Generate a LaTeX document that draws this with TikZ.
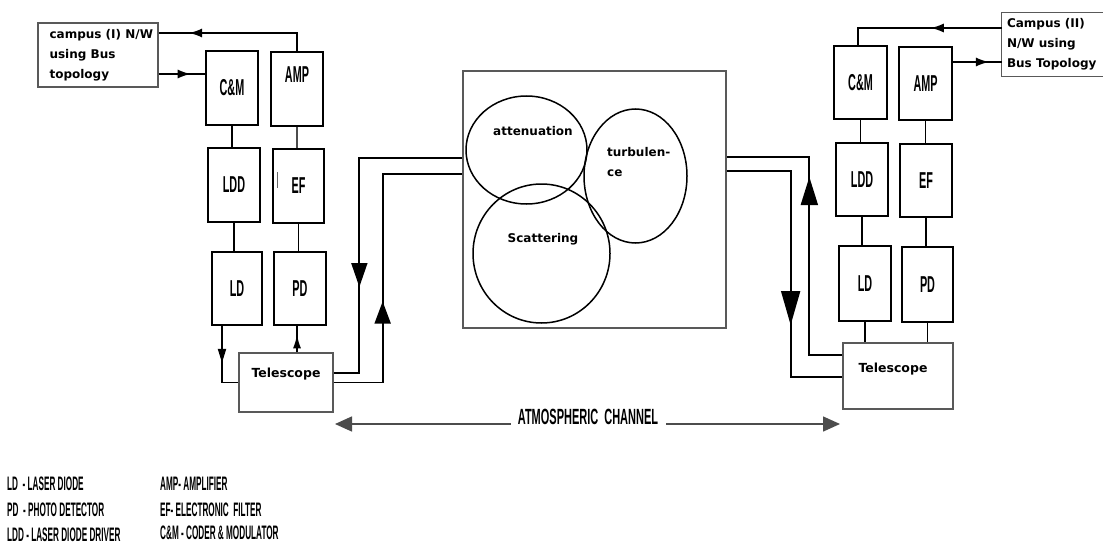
\documentclass[tikz,border=0pt]{standalone}
\usepackage{fontspec}
\setmainfont{DejaVu Sans}
\newfontfamily\condfont[FakeStretch=0.47]{Liberation Sans Bold}
\newfontfamily\condleg[FakeStretch=0.42]{Liberation Sans Bold}
\newfontfamily\condchan[FakeStretch=0.5]{Liberation Sans Bold}
\newfontfamily\verafont{DejaVu Sans}
\usetikzlibrary{arrows.meta,decorations.markings,shapes.geometric,calc}
\tikzset{
  blk/.style={draw=black, line width=1.8pt, minimum width=52pt, minimum height=73pt, inner sep=0pt, font=\condfont\fontsize{23}{23}\selectfont},
  blktext/.style={inner sep=0pt, font=\condfont\fontsize{23}{23}\selectfont},
  gbox/.style={draw=black!65, line width=1.3pt, inner sep=0pt},
  gline/.style={draw=black!65, line width=1.3pt},
  wire/.style={draw=black, line width=1.8pt},
  lightwire/.style={draw=black, line width=1.4pt},
  thinwire/.style={draw=black!70, line width=1.2pt},
  chline/.style={draw=black!70, line width=1.5pt},
  lbl/.style={font=\verafont\bfseries\fontsize{12}{20}\selectfont, inner sep=0pt, align=left},
  legend/.style={font=\condleg\fontsize{19.5}{19.5}\selectfont, inner sep=0pt, anchor=base west},
  blob/.style={ellipse, draw=black, line width=1.5pt, inner sep=0pt},
  marr/.style 2 args={postaction={decorate}, decoration={markings, mark=at position #1 with {\arrow{#2}}}},
}
\begin{document}
\begin{tikzpicture}[x=1pt,y=-1pt]
\fill[white] (0,0) rectangle (1103,543);
\useasboundingbox (0,0) rectangle (1103,543);

% ---------- left station ----------
\node[gbox, minimum width=120pt, minimum height=64pt] (campusL) at (98,55) {};
\node[lbl, anchor=west] (campusLtxt) at ([xshift=12pt]campusL.west) {campus (I) N/W\\using Bus\\topology};
\node[blk, minimum height=74pt] (CML) at (232,88) {C\&M};
\node[blk, minimum height=74pt] (AMPL) at (297,89) {};
\node[blktext] (AMPLtxt) at ([yshift=14pt]AMPL.center) {AMP};
\node[blk, minimum height=74pt] (LDDL) at (234,185) {LDD};
\node[blk, minimum width=51pt, minimum height=74pt] (EFL) at (298.5,186) {EF};
\draw[black!60, line width=1pt] (277,172) -- (277,188);
\node[blk, minimum width=50pt] (LDL) at (237,288.5) {LD};
\node[blk] (PDL) at (300,288.5) {PD};
\node[gbox, minimum width=94pt, minimum height=59pt] (TelL) at (286,382.5) {};
\node[lbl, font=\verafont\bfseries\fontsize{12.5}{15}\selectfont] (TelLtxt) at ([yshift=8pt]TelL.center) {Telescope};

% ---------- channel ----------
\node[gbox, minimum width=263pt, minimum height=257pt] (chan) at (594.5,199.5) {};
\node[blob, minimum width=121pt, minimum height=108pt] (att) at (526.5,150) {};
\node[blob, minimum width=103pt, minimum height=134pt] (turb) at (635.5,176) {};
\node[blob, minimum width=137pt, minimum height=139pt] (scat) at (541.5,253.5) {};
\node[lbl] (atttxt) at (533,131) {attenuation};
\node[lbl, anchor=west] (turbtxt) at (607,162) {turbulen-\\ce};
\node[lbl] (scattxt) at (543,239) {Scattering};

% ---------- right station ----------
\node[minimum width=101pt, minimum height=63pt, inner sep=0pt] (campusR) at (1052.5,44.5) {};
\draw[gline] (campusR.north east) -- (campusR.north west) -- (campusR.south west) -- (campusR.south east);
\node[lbl, anchor=west] (campusRtxt) at ([xshift=5pt]campusR.west) {Campus (II)\\N/W using\\Bus Topology};
\node[blk, minimum width=53pt] (CMR) at (860.5,82.5) {C\&M};
\node[blk, minimum width=53pt] (AMPR) at (925.5,83.5) {AMP};
\node[blk] (LDDR) at (862,179.5) {LDD};
\node[blk] (EFR) at (926,180.5) {EF};
\node[blk, minimum height=75pt] (LDR) at (865,283.5) {LD};
\node[blk, minimum width=51pt, minimum height=75pt] (PDR) at (927.5,284.5) {PD};
\node[gbox, minimum width=110pt, minimum height=66pt] (TelR) at (898,376) {};
\node[lbl, font=\verafont\bfseries\fontsize{12.5}{15}\selectfont] (TelRtxt) at ([xshift=-5pt,yshift=7pt]TelR.center) {Telescope};

% ---------- left connectors ----------
\draw[lightwire, marr={126pt}{Latex[length=13pt,width=9pt]}] (AMPL.north) |- ([yshift=22pt]campusL.east);
\draw[lightwire, marr={32pt}{Latex[length=13pt,width=9pt]}] ([yshift=-19pt]campusL.east) -- ([yshift=14pt]CML.west);
\draw[wire] (CML.south) -- (CML.south |- LDDL.north);
\draw[thinwire] (AMPL.south) -- (AMPL.south |- EFL.north);
\draw[wire] (LDDL.south) -- (LDDL.south |- LDL.north);
\draw[wire] (EFL.south) -- (EFL.south |- PDL.north);
\draw[wire, marr={37pt}{Triangle[length=14pt,width=8pt]}] ([xshift=-15pt]LDL.south) |- (TelL.west);
\draw[wire, marr={18pt}{Latex[length=14pt,width=8pt]}] ([xshift=-3pt]PDL.south |- TelL.north) -- ([xshift=-3pt]PDL.south);
\draw[wire, marr={232pt}{Triangle[length=24pt,width=16pt]}] ([yshift=41.5pt]chan.west) -- ++(-103,0) |- ([yshift=9.5pt]TelL.east);
\draw[wire, marr={130pt}{Triangle[length=22pt,width=16pt]}] (TelL.east) -- ++(49,0) |- ([yshift=25.5pt]chan.west);

% ---------- right connectors ----------
\draw[lightwire, marr={71pt}{Latex[length=13pt,width=9pt]}] ([yshift=16.5pt]campusR.west) -| ([xshift=-2.5pt]CMR.north);
\draw[lightwire, marr={36pt}{Latex[length=13pt,width=9pt]}] ([yshift=21.5pt]AMPR.east) -- ([yshift=-17.5pt]campusR.west);
\draw[wire] (CMR.south) -- (CMR.south |- LDDR.north);
\draw[wire] (AMPR.south) -- (AMPR.south |- EFR.north);
\draw[wire] (LDDR.south) -- (LDDR.south |- LDR.north);
\draw[wire] (EFR.south) -- (EFR.south |- PDR.north);
\draw[wire] (LDR.south) -- (LDR.south |- TelR.north);
\draw[wire] (PDR.south) -- (PDR.south |- TelR.north);
\draw[wire, marr={211pt}{Triangle[length=28pt,width=17pt]}] ([yshift=21pt]TelR.west) -- ++(-33,0) |- ([yshift=42.5pt]chan.east);
\draw[wire, marr={218pt}{Triangle[length=34pt,width=19pt]}] ([yshift=28.5pt]chan.east) -- ++(64,0) |- ([yshift=-1pt]TelR.west);

% ---------- atmospheric channel ----------
\coordinate (chL) at (335,424);
\coordinate (chR) at (840,424);
\node[inner sep=0pt, anchor=base, font=\condchan\fontsize{22}{22}\selectfont] (chtxt) at (588,424) {ATMOSPHERIC\hspace{6pt}CHANNEL};
\draw[chline, {Triangle[length=17pt,width=15pt]}-] (chL) -- ([xshift=-7pt]chtxt.base west);
\draw[chline, -{Triangle[length=17pt,width=15pt]}] ([xshift=8pt]chtxt.base east) -- (chR);

% ---------- legend ----------
\node[legend] (lg1) at (7,490) {LD\ \ - LASER DIODE};
\node[legend] (lg2) at (7,516) {PD\ \ - PHOTO DETECTOR};
\node[legend] (lg3) at (7,541) {LDD - LASER DIODE DRIVER};
\node[legend] (lg4) at (160,490) {AMP- AMPLIFIER};
\node[legend] (lg5) at (160,516) {EF- ELECTRONIC\ \ FILTER};
\node[legend] (lg6) at (160,539) {C\&M - CODER \& MODULATOR};
\end{tikzpicture}
\end{document}
